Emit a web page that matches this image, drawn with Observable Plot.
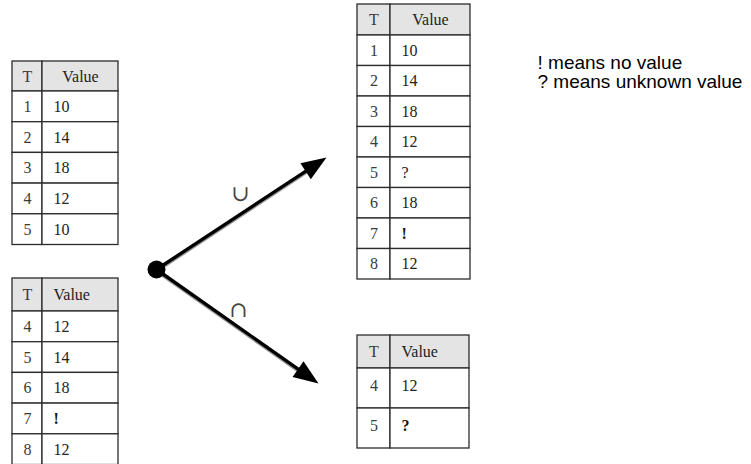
<!DOCTYPE html>
<html><head><meta charset="utf-8">
<script src="https://cdn.jsdelivr.net/npm/d3@7"></script>
<script src="https://cdn.jsdelivr.net/npm/@observablehq/plot@0.6"></script>
<style>body{margin:0;background:#fff}#chart svg{display:block}</style>
</head><body><div id="chart"></div>
<script>
// ---- data ----
const headers = ["T", "Value"];
const tableA_T = [1, 2, 3, 4, 5];
const tableA_Value = ["10", "14", "18", "12", "10"];
const tableB_T = [4, 5, 6, 7, 8];
const tableB_Value = ["12", "14", "18", "!", "12"];
const union_T = [1, 2, 3, 4, 5, 6, 7, 8];
const union_Value = ["10", "14", "18", "12", "?", "18", "!", "12"];
const inter_T = [4, 5];
const inter_Value = ["12", "?"];
const operators = ["\u222A", "\u2229"];
const notes = ["! means no value", "? means unknown value"];

// ---- layout (positions / styles) ----
const layout = {
  A: {cols: [12, 42, 118], y0: 61, headH: 30, rowH: 30.7, headerAlign: "middle"},
  B: {cols: [12, 42, 118], y0: 278, headH: 33, rowH: 30.7, headerAlign: "start"},
  C: {cols: [357, 390, 470], y0: 4, headH: 31, rowH: 30.5, headerAlign: "middle"},
  D: {cols: [357, 390, 469], y0: 335, headH: 33, rowH: 40, headerAlign: "start"}
};
const node = {x: 156, y: 269};
const arrowTips = [{x: 326, y: 157}, {x: 318, y: 383}];
const operatorPos = [{x: 240, y: 193}, {x: 238, y: 309}];
const notePos = {x: 537, y: 62, lineH: 19};
const headLen = 25, headHalf = 9.5;

// ---- build table cells ----
const rects = [], texts = [];
function addTable(key, Ts, Vs) {
  const L = layout[key];
  const [c0, c1, c2] = L.cols;
  const rows = [headers, ...Ts.map((t, i) => [String(t), Vs[i]])];
  let y = L.y0;
  rows.forEach((r, ri) => {
    const h = ri === 0 ? L.headH : L.rowH;
    const fill = ri === 0 ? "#e4e4e4" : "#ffffff";
    rects.push({x1: c0, x2: c1, y1: y, y2: y + h, fill});
    rects.push({x1: c1, x2: c2, y1: y, y2: y + h, fill});
    const yc = y + h / 2 - (key === "D" && ri > 0 ? 3 : 0);
    texts.push({x: (c0 + c1) / 2, y: yc, text: r[0], anchor: "middle", col: 0, bold: false});
    const valAnchor = ri === 0 ? L.headerAlign : "start";
    texts.push({
      x: valAnchor === "middle" ? (c1 + c2) / 2 : c1 + 11,
      y: yc, text: r[1], anchor: valAnchor, col: 1,
      bold: r[1] === "!" || (key === "D" && r[1] === "?")
    });
    y += h;
  });
}
addTable("A", tableA_T, tableA_Value);
addTable("B", tableB_T, tableB_Value);
addTable("C", union_T, union_Value);
addTable("D", inter_T, inter_Value);

// ---- arrows ----
const shafts = arrowTips.map(t => {
  const a = Math.atan2(t.y - node.y, t.x - node.x);
  return {x1: node.x, y1: node.y, x2: t.x - (headLen - 4) * Math.cos(a), y2: t.y - (headLen - 4) * Math.sin(a)};
});
const heads = arrowTips.map(t => ({
  x: t.x, y: t.y,
  angle: Math.atan2(t.y - node.y, t.x - node.x) * 180 / Math.PI + 90
}));
const arrowHead = {
  draw(ctx) {
    ctx.moveTo(0, 0);
    ctx.lineTo(-headHalf, headLen);
    ctx.lineTo(headHalf, headLen);
    ctx.closePath();
  }
};

const serif = "'Liberation Serif', 'DejaVu Serif', serif";
const chart = Plot.plot({
  width: 751, height: 464,
  margin: 0,
  x: {type: "identity", axis: null},
  y: {type: "identity", axis: null},
  color: {type: "identity"},
  style: {background: "#fff"},
  marks: [
    Plot.rect(rects, {x1: "x1", x2: "x2", y1: "y1", y2: "y2", fill: "fill", stroke: "#2b2b2b", strokeWidth: 1.3}),
    Plot.text(texts.filter(d => d.anchor === "middle"), {x: "x", y: "y", text: "text", textAnchor: "middle", fontSize: 16, fontFamily: serif, fill: d => d.col === 0 ? "#3a3a3a" : "#222"}),
    Plot.text(texts.filter(d => d.anchor === "start" && !d.bold), {x: "x", y: "y", text: "text", textAnchor: "start", fontSize: 16, fontFamily: serif, fill: "#222"}),
    Plot.text(texts.filter(d => d.bold), {x: "x", y: "y", text: "text", textAnchor: "start", fontSize: 16, fontWeight: "bold", fontFamily: serif, fill: "#111"}),
    Plot.link(shafts, {x1: "x1", y1: "y1", x2: "x2", y2: "y2", stroke: "#999", strokeWidth: 1.6, dy: 2.6}),
    Plot.link(shafts, {x1: "x1", y1: "y1", x2: "x2", y2: "y2", stroke: "#000", strokeWidth: 3.4}),
    Plot.dot(heads, {x: "x", y: "y", rotate: "angle", symbol: arrowHead, fill: "#000", stroke: "none"}),
    Plot.dot([node], {x: "x", y: "y", r: 9, fill: "#000"}),
    Plot.text(operators, {x: (d, i) => operatorPos[i].x, y: (d, i) => operatorPos[i].y, text: d => d, fontSize: 22, fontFamily: "'DejaVu Serif', serif", fill: "#444"}),
    Plot.text(notes, {x: () => notePos.x, y: (d, i) => notePos.y + i * notePos.lineH, text: d => d, textAnchor: "start", fontSize: 19, fontFamily: "'Liberation Sans', Arial, sans-serif", fill: "#000", style: {letterSpacing: "0.25px"}})
  ]
});
document.getElementById("chart").append(chart);
</script>
</body></html>
